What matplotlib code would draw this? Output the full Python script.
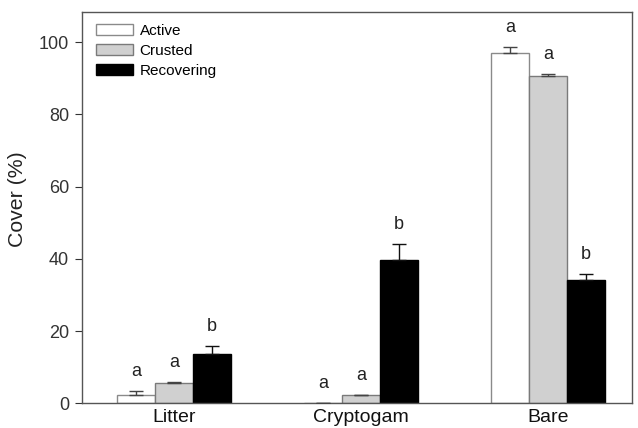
import matplotlib
matplotlib.use("Agg")
import matplotlib.pyplot as plt
import numpy as np

plt.rcParams["font.family"] = ["Liberation Sans", "DejaVu Sans"]

categories = ["Litter", "Cryptogam", "Bare"]
series = ["Active", "Crusted", "Recovering"]
active = [2.2, 0.0, 97.1]
crusted = [5.7, 2.2, 90.6]
recovering = [13.7, 39.7, 34.0]
active_err = [1.1, 0.0, 1.6]
crusted_err = [0.2, 0.2, 0.6]
recovering_err = [2.2, 4.5, 1.8]
active_letters = ["a", "a", "a"]
crusted_letters = ["a", "a", "a"]
recovering_letters = ["b", "b", "b"]

values = [active, crusted, recovering]
errors = [active_err, crusted_err, recovering_err]
letters = [active_letters, crusted_letters, recovering_letters]
fills = ["white", "#d0d0d0", "black"]
edges = ["#8a8a8a", "#7a7a7a", "black"]
ecolors = ["#444444", "#444444", "#111111"]

fig = plt.figure(figsize=(6.38, 4.28), dpi=100)
ax = fig.add_axes([0.128, 0.058, 0.8626, 0.914])

x = np.arange(len(categories))
w = 0.203
for i in range(3):
    xs = x + (i - 1) * w
    ax.bar(xs, values[i], width=w, color=fills[i], edgecolor=edges[i],
           linewidth=1.0, label=series[i], zorder=2)
    err = np.array(errors[i])
    ax.errorbar(xs, values[i], yerr=[np.zeros_like(err), err], fmt="none",
                ecolor=ecolors[i], elinewidth=1.0, capsize=5, capthick=1.0, zorder=3)
    for xi, v, e, t in zip(xs, values[i], err, letters[i]):
        ax.text(xi, v + e + 3.0, t, ha="center", va="bottom", fontsize=13,
                color="#222222")

ax.set_xlim(-0.494, 2.449)
ax.set_ylim(0, 108.4)
ax.set_yticks([0, 20, 40, 60, 80, 100])
ax.set_xticks(x)
ax.set_xticklabels(categories, fontsize=14, color="#111111")
ax.tick_params(axis="x", length=0, pad=4)
ax.tick_params(axis="y", labelsize=13, direction="out", length=5, colors="#333333", pad=4)
ax.set_ylabel("Cover (%)", fontsize=15.3, color="#222222", va="center")
ax.yaxis.set_label_coords(-0.116, 0.521)
for s in ax.spines.values():
    s.set_color("#555555")
    s.set_linewidth(1.0)

leg = ax.legend(loc="upper left", frameon=False, fontsize=11,
                handlelength=2.4, handleheight=0.75, handletextpad=0.45,
                labelspacing=0.4, borderaxespad=0.0,
                bbox_to_anchor=(0.015, 0.985))

fig.savefig("out.png", dpi=100)
